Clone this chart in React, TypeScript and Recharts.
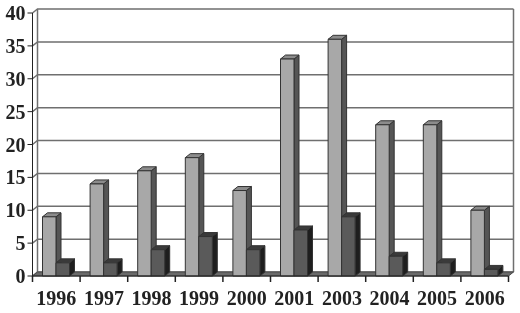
import { Bar, BarChart, CartesianGrid, XAxis, YAxis, usePlotArea } from 'recharts'

const YEARS = ['1996', '1997', '1998', '1999', '2000', '2001', '2003', '2004', '2005', '2006']
const LIGHT_VALUES = [9, 14, 16, 18, 13, 33, 36, 23, 23, 10]
const DARK_VALUES = [2, 2, 4, 6, 4, 7, 9, 3, 2, 1]
const Y_TICKS = [0, 5, 10, 15, 20, 25, 30, 35, 40]

const chartData = YEARS.map((year, i) => ({ year, light: LIGHT_VALUES[i], dark: DARK_VALUES[i] }))

// fake 3d depth of the old spreadsheet look
const DEPTH_X = 5
const DEPTH_Y = 4
const LINE_COLOR = '#6f6f6f'
const AXIS_COLOR = '#222'

const axisText = { fontFamily: '"Liberation Serif", serif', fontWeight: 700, fontSize: 20, fill: '#222' }

function make3dBar(front: string, top: string, side: string) {
  return function Bar3d({ x, y, width, height }: any) {
    const right = x + width
    const bottom = y + height
    return (
      <g stroke="#333" strokeWidth={1} strokeLinejoin="round">
        <polygon
          fill={side}
          points={`${right},${y} ${right + DEPTH_X},${y - DEPTH_Y} ${right + DEPTH_X},${bottom - DEPTH_Y} ${right},${bottom}`}
        />
        <polygon
          fill={top}
          points={`${x},${y} ${x + DEPTH_X},${y - DEPTH_Y} ${right + DEPTH_X},${y - DEPTH_Y} ${right},${y}`}
        />
        <rect x={x} y={y} width={width} height={height} fill={front} />
      </g>
    )
  }
}

function BackGridLine({ x1, y1, x2, index }: any) {
  const backLeft = x1 + DEPTH_X
  const backRight = x2 + DEPTH_X
  const backY = y1 - DEPTH_Y
  return (
    <g key={`grid-${index}`} stroke={LINE_COLOR} fill="none" strokeWidth={1.5}>
      <polyline points={`${x1},${y1} ${backLeft},${backY} ${backRight},${backY}`} />
    </g>
  )
}

// walls and floor edge, same shift as the grid lines
function Walls() {
  const plot = usePlotArea()
  if (!plot) return null
  const { x: left, y: top, width: w, height: h } = plot
  return (
    <g stroke={LINE_COLOR} fill="none" strokeWidth={1.5}>
      <line x1={left + DEPTH_X} y1={top - DEPTH_Y} x2={left + DEPTH_X} y2={top + h - DEPTH_Y} />
      <line x1={left + w + DEPTH_X} y1={top - DEPTH_Y} x2={left + w + DEPTH_X} y2={top + h - DEPTH_Y} />
      <polygon
        points={`${left},${top + h} ${left + DEPTH_X},${top + h - DEPTH_Y} ${left + w + DEPTH_X},${top + h - DEPTH_Y} ${left + w},${top + h}`}
        fill="#6a6a6a"
        stroke="#4a4a4a"
        strokeWidth={1}
      />
    </g>
  )
}

// ticks sit on the category boundaries in the original, not under the labels
function YearTick({ x, payload, index }: any) {
  const plot = usePlotArea()
  if (!plot) return null
  const band = plot.width / YEARS.length
  const axisY = plot.y + plot.height
  const tickAt = [x - band / 2]
  if (index === YEARS.length - 1) tickAt.push(x + band / 2)
  return (
    <g>
      {tickAt.map((tx) => (
        <path key={tx} d={`M${tx},${axisY}V${axisY + 6}`} stroke={AXIS_COLOR} strokeWidth={1.5} fill="none" />
      ))}
      <text x={x} y={axisY + 29} textAnchor="middle" {...axisText}>
        {payload.value}
      </text>
    </g>
  )
}

export default function App() {
  return (
    <div style={{ position: 'absolute', left: 0, top: 0, width: 520, height: 313, background: '#fff', filter: 'blur(0.5px)' }}>
      <BarChart
        width={520}
        height={313}
        data={chartData}
        margin={{ top: 13, right: 11.5, bottom: 7, left: 0 }}
        barGap={0}
        barSize={13.5}
      >
        <CartesianGrid vertical={false} horizontal={(p: any) => <BackGridLine {...p} />} syncWithTicks />
        <Walls />
        <XAxis dataKey="year" tick={<YearTick />} tickLine={false} stroke={AXIS_COLOR} interval={0} />
        <YAxis
          domain={[0, 40]}
          ticks={Y_TICKS}
          width={32.5}
          tick={axisText}
          tickSize={5}
          tickMargin={2}
          stroke={AXIS_COLOR}
        />
        <Bar dataKey="light" isAnimationActive={false} shape={make3dBar('#a8a8a8', '#8c8c8c', '#555555')} />
        <Bar dataKey="dark" isAnimationActive={false} shape={make3dBar('#5a5a5a', '#3a3a3a', '#1e1e1e')} />
      </BarChart>
    </div>
  )
}
